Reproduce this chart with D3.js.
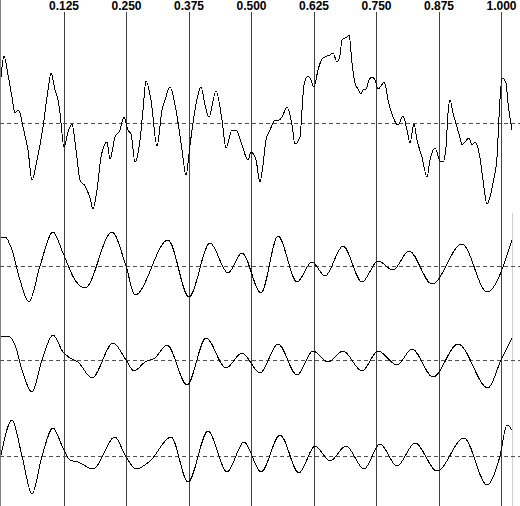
<!DOCTYPE html>
<html>
<head>
<meta charset="utf-8">
<script src="https://cdn.jsdelivr.net/npm/d3@7"></script>
<style>
  html, body { margin: 0; padding: 0; background: #fff; }
  svg { display: block; }
</style>
</head>
<body>
<svg id="chart" width="520" height="506"></svg>
<script>
// time ticks along the top
const tickValues = [0.125, 0.250, 0.375, 0.500, 0.625, 0.750, 0.875, 1.000];

// trace 1 (raw signal) : [t, value]
const rawTrace = [
  [0.000, 46], [0.006, 67], [0.014, 48], [0.022, 26], [0.028, 10], [0.034, 13], [0.038, 10],
  [0.044, -4], [0.054, -27], [0.062, -57], [0.072, -37], [0.084, -4], [0.094, 33], [0.100, 50],
  [0.108, 33], [0.114, 23], [0.118, 10], [0.126, -24], [0.134, -9], [0.142, -1], [0.150, -27],
  [0.158, -57], [0.168, -63], [0.178, -75], [0.184, -86], [0.192, -67], [0.200, -34], [0.212, -19],
  [0.218, -36], [0.228, -14], [0.238, -7], [0.246, 6], [0.254, -7], [0.260, -11], [0.268, -39],
  [0.278, -17], [0.284, 13], [0.290, 42], [0.300, 23], [0.312, -23], [0.322, 13], [0.328, 23],
  [0.338, 36], [0.350, 13], [0.362, -27], [0.370, -52], [0.378, -22], [0.388, 13], [0.400, 36],
  [0.408, 18], [0.416, 6], [0.430, 32], [0.442, 3], [0.450, -25], [0.462, -7], [0.470, -7],
  [0.480, -19], [0.494, -37], [0.500, -29], [0.510, -37], [0.518, -59], [0.524, -42], [0.530, -17],
  [0.538, -7], [0.548, 3], [0.552, 2], [0.562, 6], [0.572, 16], [0.582, -2], [0.588, -21],
  [0.598, -14], [0.602, 13], [0.606, 38], [0.614, 47], [0.620, 43], [0.626, 36], [0.634, 53],
  [0.642, 64], [0.652, 67], [0.658, 68], [0.664, 70], [0.672, 61], [0.678, 68], [0.682, 83],
  [0.692, 86], [0.696, 88], [0.702, 60], [0.708, 40], [0.714, 34], [0.720, 29], [0.724, 33],
  [0.730, 34], [0.736, 43], [0.742, 46], [0.748, 43], [0.754, 34], [0.760, 37], [0.766, 41],
  [0.770, 35], [0.774, 23], [0.784, 6], [0.794, -2], [0.804, 7], [0.812, -7], [0.818, -20],
  [0.826, -1], [0.832, -17], [0.842, -34], [0.852, -54], [0.858, -37], [0.868, -25], [0.878, -38],
  [0.884, -39], [0.890, -24], [0.894, 10], [0.898, 23], [0.904, 10], [0.912, -4], [0.918, -15],
  [0.922, -22], [0.928, -19], [0.936, -15], [0.942, -22], [0.948, -19], [0.952, -22], [0.958, -35],
  [0.964, -57], [0.972, -81], [0.980, -70], [0.984, -60], [0.992, -34], [0.996, 6], [1.002, 45],
  [1.010, 40], [1.014, 20], [1.022, -7]
];

// trace 2 (band 1)
const band1 = [
  [0.000, 29], [0.008, 29], [0.022, 16], [0.038, -14], [0.056, -36], [0.078, 0], [0.104, 34],
  [0.124, 13], [0.148, -14], [0.168, -22], [0.222, 34], [0.250, 0], [0.268, -29], [0.334, 26],
  [0.376, -31], [0.418, 23], [0.454, -7], [0.482, 13], [0.520, -27], [0.554, 30], [0.592, -16],
  [0.622, 4], [0.648, -10], [0.684, 20], [0.722, -16], [0.754, 5], [0.784, -4], [0.816, 15],
  [0.862, -18], [0.922, 22], [0.972, -26], [1.022, 26]
];

// trace 3 (band 2)
const band2 = [
  [0.000, 24], [0.014, 24], [0.028, 15], [0.042, -10], [0.062, -32], [0.082, 0], [0.104, 25],
  [0.124, 8], [0.138, 2], [0.154, -2], [0.182, -18], [0.224, 17], [0.250, 0], [0.266, -11],
  [0.288, -2], [0.308, 2], [0.332, 15], [0.372, -25], [0.410, 22], [0.450, -8], [0.482, 7],
  [0.518, -13], [0.554, 16], [0.592, -15], [0.624, 9], [0.654, -2], [0.684, 9], [0.722, -11],
  [0.754, 9], [0.792, -5], [0.822, 11], [0.864, -17], [0.914, 16], [0.974, -28],
  [1.000, 0], [1.022, 22]
];

// trace 4 (band 3)
const band3 = [
  [0.000, 1], [0.022, 36], [0.042, 0], [0.062, -38], [0.082, 0], [0.104, 28], [0.124, 8],
  [0.138, -4], [0.154, -6], [0.184, -13], [0.228, 19], [0.248, 1], [0.270, -13], [0.298, -5],
  [0.340, 19], [0.374, -26], [0.414, 25], [0.452, -16], [0.486, 14], [0.520, -16], [0.558, 21],
  [0.596, -17], [0.628, 10], [0.658, -5], [0.690, 10], [0.726, -13], [0.758, 12], [0.792, -10],
  [0.828, 13], [0.872, -15], [0.926, 18], [0.972, -29], [0.998, 0], [1.012, 31], [1.022, 26]
];

const traces = [rawTrace, band1, band2, band3];

// layout
const width = 520, height = 506,
      marginTop = 12,
      baselines = [123, 266, 360, 456];

const svg = d3.select('#chart');

const xScale = d3.scaleLinear()
                 .domain([0, 1])
                 .range([1, 501]);

// left border
svg.append('line')
  .attr('x1', 0.5).attr('x2', 0.5)
  .attr('y1', 0).attr('y2', height)
  .attr('stroke', '#808080')
  .attr('stroke-width', 1);

// faint marker line near right edge
svg.append('line')
  .attr('x1', xScale(1.022) + 0.5).attr('x2', xScale(1.022) + 0.5)
  .attr('y1', 213).attr('y2', height)
  .attr('stroke', '#d0d0d0')
  .attr('stroke-width', 1);

// vertical time lines + labels
const xAxis = d3.axisTop(xScale)
                .tickValues(tickValues)
                .tickSize(-(height - marginTop))
                .tickPadding(2)
                .tickFormat(d3.format('.3f'));

const axisG = svg.append('g')
  .attr('transform', 'translate(0,' + marginTop + ')')
  .call(xAxis);

axisG.select('.domain').remove();
axisG.selectAll('.tick line')
  .attr('stroke', '#404040')
  .attr('shape-rendering', 'crispEdges');
axisG.selectAll('.tick text')
  .attr('fill', '#000')
  .style('font-family', '"Liberation Sans", Arial, sans-serif')
  .style('font-size', '12px')
  .style('font-weight', 'bold');

// traces
traces.forEach((data, i) => {
  const base = baselines[i];
  const yScale = d3.scaleLinear()
                   .domain([-100, 100])
                   .range([base + 100, base - 100]);

  svg.append('line')
    .attr('x1', 0).attr('x2', width)
    .attr('y1', base + 0.5).attr('y2', base + 0.5)
    .attr('stroke', '#505050')
    .attr('stroke-width', 1)
    .attr('stroke-dasharray', '4,3')
    .attr('shape-rendering', 'crispEdges');

  const line = d3.line()
                 .x(d => xScale(d[0]))
                 .y(d => yScale(d[1]))
                 .curve(d3.curveMonotoneX);

  svg.append('path')
    .datum(data)
    .attr('fill', 'none')
    .attr('stroke', '#000')
    .attr('stroke-width', 1)
    .attr('shape-rendering', 'crispEdges')
    .attr('d', line);
});
</script>
</body>
</html>
